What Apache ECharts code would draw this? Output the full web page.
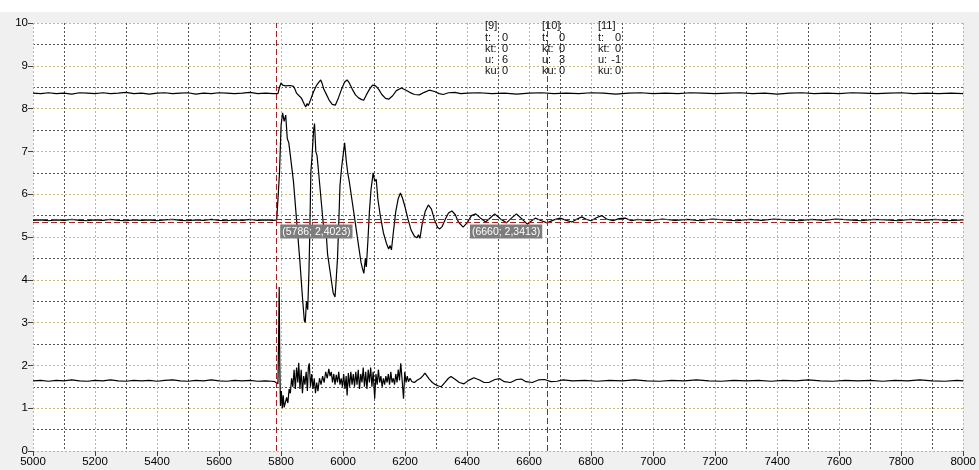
<!DOCTYPE html>
<html>
<head>
<meta charset="utf-8">
<script src="https://cdn.jsdelivr.net/npm/echarts@6/dist/echarts.min.js"></script>
<style>html,body{margin:0;padding:0;background:#f0f0f0;}#c{width:979px;height:470px;}</style>
</head>
<body>
<div id="c"></div>
<script>
// ---- data ----
const xTicks = [5000, 8000, 200];   // min, max, interval
const yTicks = [0, 10, 1];

const topSignal = [[5000,8.36],[5025,8.35],[5050,8.37],[5075,8.35],[5100,8.36],[5125,8.34],[5150,8.37],[5175,8.36],[5200,8.35],[5225,8.37],[5250,8.35],[5275,8.36],[5300,8.38],[5325,8.35],[5350,8.36],[5375,8.34],[5400,8.36],[5425,8.37],[5450,8.35],[5475,8.36],[5500,8.37],[5525,8.34],[5550,8.36],[5575,8.35],[5600,8.37],[5625,8.36],[5650,8.35],[5675,8.36],[5700,8.38],[5725,8.35],[5750,8.36],[5775,8.35],
[5790,8.35],[5795,8.5],[5800,8.6],[5805,8.55],[5810,8.58],[5815,8.53],[5820,8.56],[5830,8.54],[5840,8.52],[5845,8.45],[5850,8.36],[5858,8.3],[5865,8.25],[5870,8.18],[5875,8.1],[5880,8.04],[5884,8.12],[5888,8.07],[5895,8.2],[5905,8.4],[5915,8.55],[5922,8.62],[5928,8.67],[5932,8.6],[5938,8.45],[5945,8.35],[5955,8.2],[5965,8.1],[5975,8.08],[5985,8.25],[5995,8.45],[6005,8.62],[6013,8.67],[6020,8.6],[6030,8.45],[6040,8.32],[6050,8.25],[6060,8.21],[6067,8.2],[6075,8.32],[6085,8.45],[6095,8.55],[6105,8.53],[6115,8.45],[6125,8.33],[6137,8.24],[6147,8.22],[6160,8.3],[6172,8.42],[6188,8.48],[6200,8.44],[6215,8.38],[6230,8.33],[6246,8.32],[6262,8.38],[6278,8.43],[6295,8.4],[6310,8.35],[6323,8.33],[6340,8.37],[6360,8.38],[6380,8.35],
[6400,8.36],[6440,8.37],[6480,8.35],[6520,8.36],[6560,8.34],[6600,8.36],[6640,8.37],[6680,8.35],[6720,8.36],[6760,8.35],[6800,8.37],[6840,8.36],[6880,8.34],[6920,8.36],[6960,8.37],[7000,8.35],[7040,8.36],[7080,8.35],[7120,8.37],[7160,8.36],[7200,8.35],[7240,8.36],[7280,8.37],[7320,8.35],[7360,8.36],[7400,8.34],[7440,8.36],[7480,8.37],[7520,8.35],[7560,8.36],[7600,8.35],[7640,8.37],[7680,8.36],[7720,8.35],[7760,8.36],[7800,8.37],[7840,8.35],[7880,8.36],[7920,8.35],[7960,8.36],[8000,8.35]];

const midSignal = [[5000,5.39],[5025,5.4],[5050,5.38],[5075,5.4],[5100,5.39],[5125,5.41],[5150,5.39],[5175,5.38],[5200,5.4],[5225,5.39],[5250,5.41],[5275,5.39],[5300,5.38],[5325,5.4],[5350,5.39],[5375,5.4],[5400,5.38],[5425,5.4],[5450,5.41],[5475,5.39],[5500,5.38],[5525,5.4],[5550,5.39],[5575,5.41],[5600,5.39],[5625,5.38],[5650,5.4],[5675,5.39],[5700,5.41],[5725,5.39],[5750,5.4],[5775,5.39],[5786,5.4],[5790,5.43],
[5795,6.5],[5800,7.6],[5805,7.9],[5810,7.7],[5815,7.85],[5820,7.3],[5825,7.2],[5830,6.9],[5840,6.3],[5850,5.4],[5860,4.5],[5870,3.5],[5875,3.05],[5878,3.0],[5882,3.5],[5886,3.3],[5890,4.2],[5893,5.2],[5896,6.5],[5900,6.9],[5905,7.5],[5908,7.65],[5912,7.0],[5916,6.9],[5920,6.6],[5930,5.8],[5940,5.0],[5945,5.15],[5950,4.6],[5960,4.1],[5968,3.7],[5974,3.6],[5977,3.9],[5982,4.5],[5986,5.3],[5990,6.2],[5995,6.6],[6000,6.9],[6005,7.2],[6010,6.8],[6015,6.5],[6020,6.3],[6030,5.8],[6040,5.3],[6050,4.8],[6058,4.4],[6063,4.25],[6067,4.15],[6072,4.5],[6075,4.3],[6080,4.9],[6085,5.6],[6090,6.1],[6097,6.5],[6102,6.3],[6107,6.35],[6112,5.9],[6120,5.5],[6130,5.1],[6140,4.85],[6147,4.72],[6152,4.8],[6156,4.7],[6162,5.1],[6170,5.6],[6178,5.9],[6185,6.03],[6192,5.9],[6200,5.7],[6210,5.4],[6220,5.15],[6230,5.02],[6238,4.98],[6243,5.05],[6248,4.97],[6255,5.3],[6265,5.6],[6275,5.75],[6285,5.65],[6295,5.4],[6305,5.22],[6312,5.19],[6320,5.25],[6330,5.42],[6340,5.56],[6351,5.61],[6362,5.52],[6372,5.35],[6387,5.23],[6400,5.33],[6414,5.5],[6428,5.54],[6445,5.43],[6460,5.35],[6475,5.45],[6489,5.54],[6508,5.42],[6527,5.33],[6543,5.44],[6559,5.54],[6577,5.42],[6594,5.3],[6608,5.38],[6620,5.44],[6640,5.38],[6658,5.33],[6680,5.4],[6700,5.44],[6720,5.39],[6738,5.35],[6755,5.42],[6770,5.47],[6785,5.41],[6800,5.38],[6817,5.45],[6834,5.5],[6850,5.42],[6870,5.38],[6890,5.43],[6910,5.44],[6930,5.38],
[6950,5.41],[6990,5.38],[7030,5.42],[7070,5.39],[7110,5.41],[7150,5.38],[7190,5.42],[7230,5.4],[7270,5.38],[7310,5.41],[7350,5.39],[7390,5.42],[7430,5.4],[7470,5.38],[7510,5.41],[7550,5.39],[7590,5.42],[7630,5.4],[7670,5.38],[7710,5.41],[7750,5.4],[7790,5.38],[7830,5.41],[7870,5.39],[7910,5.41],[7950,5.38],[8000,5.4]];

const lowSignal = [[5000,1.64],[5025,1.65],[5050,1.63],[5075,1.65],[5100,1.64],[5125,1.66],[5150,1.64],[5175,1.63],[5200,1.65],[5225,1.64],[5250,1.66],[5275,1.64],[5300,1.63],[5325,1.65],[5350,1.64],[5375,1.65],[5400,1.63],[5425,1.65],[5450,1.66],[5475,1.64],[5500,1.63],[5525,1.65],[5550,1.64],[5575,1.66],[5600,1.64],[5625,1.63],[5650,1.65],[5675,1.64],[5700,1.65],[5725,1.63],[5750,1.64],[5770,1.63],
[5780,1.62],[5786,1.58],[5790,1.57],[5792,2.6],[5794,3.83],[5796,2.0],[5798,1.05],[5801,1.4],[5804,1.0],[5807,1.3],[5810,1.02],[5814,1.0],[5818,1.25],[5822,1.12],[5826,1.45],[5830,1.35],[5834,1.7],[5838,1.5],[5842,1.9],[5846,1.45],[5850,1.95],[5854,1.6],[5857,2.06],[5861,1.45],[5865,1.9],[5869,1.35],[5873,1.75],[5877,1.55],[5881,1.85],[5885,1.4],[5888,1.95],[5891,2.05],[5895,1.5],[5899,1.8],[5903,1.45],[5907,1.7],[5911,1.35],[5915,1.6],[5919,1.4],[5924,1.7],[5929,1.55],[5934,1.75],[5939,1.6],[5944,1.85],[5949,1.7],[5954,1.92],[5958,1.75],[5962,1.85],[5966,1.6],[5970,1.8],[5974,1.55],[5978,1.78],[5982,1.6],[5986,1.85],[5990,1.55],[5994,1.7],[5998,1.5],[6002,1.8],[6006,1.45],[6010,1.75],[6013,1.3],[6017,1.82],[6021,1.5],[6025,1.85],[6029,1.55],[6033,1.8],[6037,1.5],[6041,1.85],[6045,1.55],[6049,1.9],[6053,1.45],[6057,1.8],[6061,1.6],[6065,1.95],[6069,1.5],[6073,1.85],[6077,1.45],[6081,1.9],[6085,1.6],[6089,1.95],[6093,1.5],[6097,1.85],[6102,1.22],[6106,1.8],[6110,1.55],[6114,1.9],[6118,1.6],[6122,1.75],[6126,1.5],[6130,1.7],[6134,1.55],[6138,1.75],[6142,1.6],[6146,1.8],[6150,1.55],[6154,1.85],[6158,1.6],[6162,1.7],[6166,1.55],[6170,1.8],[6174,1.6],[6178,1.9],[6182,1.65],[6186,2.05],[6190,1.7],[6195,1.22],[6199,1.85],[6203,1.6],[6207,1.75],[6211,1.62],[6216,1.7],[6222,1.62],[6230,1.6],[6240,1.66],[6250,1.7],[6258,1.76],[6264,1.82],[6270,1.78],[6278,1.68],[6288,1.6],[6298,1.55],[6308,1.52],[6316,1.5],[6328,1.6],[6340,1.7],[6348,1.74],[6360,1.68],[6375,1.6],[6390,1.57],[6405,1.65],[6422,1.71],[6440,1.66],[6455,1.6],[6470,1.6],[6490,1.67],[6505,1.69],[6520,1.62],[6540,1.6],[6560,1.67],[6575,1.68],[6590,1.62],[6610,1.6],[6630,1.66],[6650,1.67],[6670,1.62],[6690,1.63],[6710,1.66],
[6740,1.64],[6780,1.65],[6820,1.63],[6860,1.65],[6900,1.64],[6940,1.66],[6980,1.64],[7020,1.63],[7060,1.65],[7100,1.64],[7140,1.66],[7180,1.64],[7220,1.63],[7260,1.65],[7300,1.64],[7340,1.65],[7380,1.63],[7420,1.65],[7460,1.64],[7500,1.66],[7540,1.64],[7580,1.63],[7620,1.65],[7660,1.64],[7700,1.65],[7740,1.63],[7780,1.65],[7820,1.64],[7860,1.66],[7900,1.64],[7940,1.63],[7980,1.65],[8000,1.64]];

const cursorX = [5786, 6660];
const cursorLabels = ['(5786; 2,4023)', '(6660; 2,3413)'];
const levelY = [5.41, 5.35];

const annIds = ['[9]', '[10]', '[11]'];
const annKeys = ['t:', 'kt:', 'u:', 'ku:'];
const annVals = [[0, 0, 6, 0], [0, 0, 3, 0], [0, 0, -1, 0]];
const annColX = [485, 542, 598];

// ---- chart ----
const chart = echarts.init(document.getElementById('c'), null, {renderer: 'canvas'});
const FONT = 'Liberation Sans';
const majorLine = {show: true, lineStyle: {color: '#c2bb7a', type: [2, 2], width: 1}};
const minorLine = {show: true, lineStyle: {color: '#555555', type: [2, 2], width: 1}};
const redColor = '#a82020';
const redStyle = {color: redColor, type: [6, 3], width: 1, opacity: 1};

const graphics = [{type: 'rect', shape: {x: 0, y: 0, width: 979, height: 12}, style: {fill: '#ffffff'}, silent: true}];
annColX.forEach((cx, i) => {
  graphics.push({type: 'text', x: cx, y: 20, z: 10, style: {text: annIds[i], font: '11px ' + FONT, fill: '#111', textVerticalAlign: 'top'}});
  annKeys.forEach((k, j) => {
    const y = 32 + j * 11.3;
    graphics.push({type: 'text', x: cx, y: y, z: 10, style: {text: k, font: '11px ' + FONT, fill: '#111', textVerticalAlign: 'top'}});
    graphics.push({type: 'text', x: cx + 23, y: y, z: 10, style: {text: String(annVals[i][j]), font: '11px ' + FONT, fill: '#111', textAlign: 'right', textVerticalAlign: 'top'}});
  });
});

const lineSeries = (name, data) => ({
  name, type: 'line', data, showSymbol: false, symbol: 'none', sampling: null,
  lineStyle: {color: '#000', width: 1.2}, animation: false, z: 3
});

const mid = lineSeries('mid', midSignal);
mid.markLine = {
  silent: true, symbol: ['none', 'none'], animation: false,
  label: {show: false}, lineStyle: redStyle, emphasis: {disabled: true},
  data: cursorX.map(v => ({xAxis: v, lineStyle: redStyle})).concat(levelY.map(v => ({yAxis: v, lineStyle: redStyle})))
};
mid.markPoint = {
  silent: true, animation: false, symbol: 'circle', symbolSize: 1,
  itemStyle: {color: 'rgba(0,0,0,0)'},
  data: cursorX.map((v, i) => ({
    coord: [v, levelY[1]],
    label: {
      show: true, formatter: cursorLabels[i],
      position: i === 0 ? [4, 3] : [-5, 3],
      align: i === 0 ? 'left' : 'right', verticalAlign: 'top',
      color: '#fff', backgroundColor: '#7d7d7d',
      fontSize: 10.5, fontFamily: FONT, padding: [2, 2, 1, 2]
    }
  }))
};

chart.setOption({
  backgroundColor: '#f0f0f0',
  animation: false,
  graphic: graphics,
  grid: {left: 33, right: 7, top: 23, bottom: 19, show: true, backgroundColor: '#ffffff', borderWidth: 0},
  xAxis: {
    type: 'value', min: xTicks[0], max: xTicks[1], interval: xTicks[2],
    axisLine: {show: false},
    axisTick: {show: true, length: 5, lineStyle: {color: '#444'}},
    minorTick: {show: false, splitNumber: 2},
    axisLabel: {color: '#000', fontSize: 11.5, fontFamily: FONT, margin: 5, formatter: v => String(v)},
    splitLine: majorLine,
    minorSplitLine: minorLine
  },
  yAxis: {
    type: 'value', min: yTicks[0], max: yTicks[1], interval: yTicks[2],
    axisLine: {show: false},
    axisTick: {show: true, length: 5, lineStyle: {color: '#444'}},
    minorTick: {show: false, splitNumber: 2},
    axisLabel: {color: '#000', fontSize: 11.5, fontFamily: FONT, margin: 5, formatter: v => String(v)},
    splitLine: majorLine,
    minorSplitLine: minorLine
  },
  series: [lineSeries('top', topSignal), mid, lineSeries('low', lowSignal)]
});
</script>
</body>
</html>
